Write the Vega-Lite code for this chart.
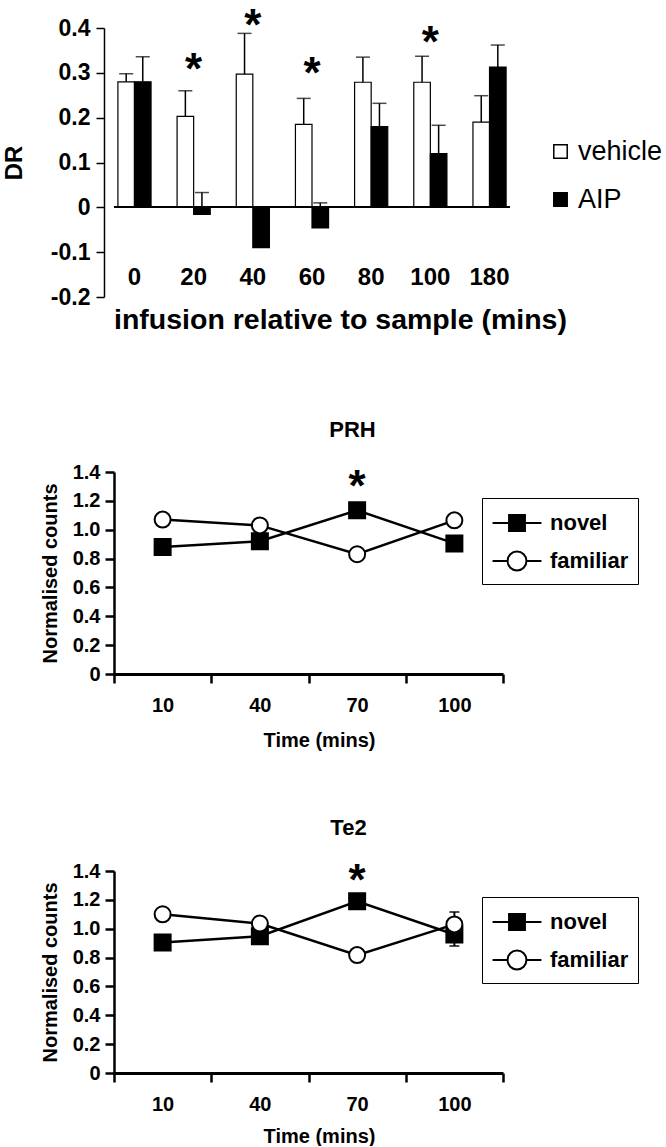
{
  "$schema": "https://vega.github.io/schema/vega-lite/v6.json",
  "padding": {"left": 2, "top": 4, "right": 0, "bottom": 0},
  "background": "white",
  "config": {
    "font": "Liberation Sans",
    "view": {"stroke": null},
    "axis": {"domainColor": "black", "tickColor": "black", "labelColor": "black", "titleColor": "black", "grid": false, "labelFont": "Liberation Sans", "titleFont": "Liberation Sans", "labelOverlap": false},
    "legend": {"labelColor": "black", "labelFont": "Liberation Sans"},
    "title": {"color": "black", "font": "Liberation Sans", "fontWeight": "bold", "fontSize": 22}
  },
  "datasets": {
    "dr": [
      {"time": "0", "group": "vehicle", "value": 0.28},
      {"time": "0", "group": "AIP", "value": 0.28},
      {"time": "20", "group": "vehicle", "value": 0.203},
      {"time": "20", "group": "AIP", "value": -0.016},
      {"time": "40", "group": "vehicle", "value": 0.297},
      {"time": "40", "group": "AIP", "value": -0.09},
      {"time": "60", "group": "vehicle", "value": 0.185},
      {"time": "60", "group": "AIP", "value": -0.046},
      {"time": "80", "group": "vehicle", "value": 0.279},
      {"time": "80", "group": "AIP", "value": 0.18},
      {"time": "100", "group": "vehicle", "value": 0.279},
      {"time": "100", "group": "AIP", "value": 0.12},
      {"time": "180", "group": "vehicle", "value": 0.19},
      {"time": "180", "group": "AIP", "value": 0.313}
    ],
    "drerr": [
      {"time": "0", "group": "vehicle", "value": 0.28, "upper": 0.298},
      {"time": "0", "group": "AIP", "value": 0.28, "upper": 0.336},
      {"time": "20", "group": "vehicle", "value": 0.203, "upper": 0.26},
      {"time": "20", "group": "AIP", "value": -0.016, "upper": 0.033},
      {"time": "40", "group": "vehicle", "value": 0.297, "upper": 0.388},
      {"time": "60", "group": "vehicle", "value": 0.185, "upper": 0.243},
      {"time": "60", "group": "AIP", "value": -0.046, "upper": 0.01},
      {"time": "80", "group": "vehicle", "value": 0.279, "upper": 0.335},
      {"time": "80", "group": "AIP", "value": 0.18, "upper": 0.232},
      {"time": "100", "group": "vehicle", "value": 0.279, "upper": 0.337},
      {"time": "100", "group": "AIP", "value": 0.12, "upper": 0.183},
      {"time": "180", "group": "vehicle", "value": 0.19, "upper": 0.249},
      {"time": "180", "group": "AIP", "value": 0.313, "upper": 0.362}
    ],
    "drstar": [
      {"time": "20", "pos": 0.33},
      {"time": "40", "pos": 0.43},
      {"time": "60", "pos": 0.322},
      {"time": "100", "pos": 0.391}
    ],
    "prh": [
      {"time": "10", "series": "novel", "value": 0.88, "lo": 0.86, "hi": 0.9},
      {"time": "40", "series": "novel", "value": 0.92, "lo": 0.88, "hi": 0.96},
      {"time": "70", "series": "novel", "value": 1.135, "lo": 1.11, "hi": 1.16},
      {"time": "100", "series": "novel", "value": 0.905, "lo": 0.86, "hi": 0.95},
      {"time": "10", "series": "familiar", "value": 1.07, "lo": 1.05, "hi": 1.09},
      {"time": "40", "series": "familiar", "value": 1.03, "lo": 0.99, "hi": 1.07},
      {"time": "70", "series": "familiar", "value": 0.83, "lo": 0.81, "hi": 0.85},
      {"time": "100", "series": "familiar", "value": 1.065, "lo": 1.03, "hi": 1.1}
    ],
    "prhstar": [{"time": "70", "pos": 1.372}],
    "te2": [
      {"time": "10", "series": "novel", "value": 0.905, "lo": 0.885, "hi": 0.925},
      {"time": "40", "series": "novel", "value": 0.948, "lo": 0.91, "hi": 0.99},
      {"time": "70", "series": "novel", "value": 1.19, "lo": 1.17, "hi": 1.21},
      {"time": "100", "series": "novel", "value": 0.96, "lo": 0.88, "hi": 1.04},
      {"time": "10", "series": "familiar", "value": 1.1, "lo": 1.08, "hi": 1.12},
      {"time": "40", "series": "familiar", "value": 1.036, "lo": 0.99, "hi": 1.08},
      {"time": "70", "series": "familiar", "value": 0.817, "lo": 0.79, "hi": 0.84},
      {"time": "100", "series": "familiar", "value": 1.03, "lo": 0.95, "hi": 1.116}
    ],
    "te2star": [{"time": "70", "pos": 1.405}]
  },
  "spacing": 85,
  "vconcat": [
    {
      "width": 396,
      "height": 269,
      "data": {"name": "dr"},
      "layer": [
        {
          "mark": {"type": "bar", "stroke": "black", "strokeWidth": 1.2},
          "encoding": {
            "x": {"field": "time", "type": "nominal", "sort": ["0", "20", "40", "60", "80", "100", "180"],
              "scale": {"paddingInner": 0.44, "paddingOuter": 0.066},
              "axis": {"title": "infusion relative to sample (mins)", "labelAngle": 0, "domain": false, "ticks": false, "labelPadding": -32, "labelFontSize": 24, "labelFontWeight": "bold", "titleFontSize": 28.5, "titleFontWeight": "bold", "titlePadding": 8, "titleX": 226, "titleAlign": "center"}},
            "xOffset": {"field": "group", "type": "nominal", "sort": ["vehicle", "AIP"], "scale": {"paddingInner": 0}},
            "y": {"field": "value", "type": "quantitative", "scale": {"domain": [-0.2, 0.4], "nice": false, "zero": false},
              "axis": {"title": "DR", "offset": 10, "values": [-0.2, -0.1, 0, 0.1, 0.2, 0.3, 0.4], "labelOverlap": false, "labelExpr": "datum.value == 0 ? '0' : replace(format(datum.value, '.1f'), '\u2212', '-')", "labelFontSize": 23, "labelFontWeight": "bold", "tickSize": 8, "tickWidth": 1.5, "domainWidth": 1.5, "labelPadding": 6, "titleFontSize": 24, "titleFontWeight": "bold", "titlePadding": 24}},
            "fill": {"field": "group", "type": "nominal", "scale": {"domain": ["vehicle", "AIP"], "range": ["white", "black"]},
              "legend": {"title": null, "orient": "none", "legendX": 433, "legendY": 110, "symbolType": "square", "symbolSize": 180, "symbolStrokeColor": "black", "symbolStrokeWidth": 1.5, "labelFontSize": 27, "labelFontWeight": "normal", "labelOffset": 4, "rowPadding": 20}}
          }
        },
        {
          "data": {"name": "drerr"},
          "mark": {"type": "rule", "color": "black", "strokeWidth": 1.5},
          "encoding": {
            "x": {"field": "time", "type": "nominal", "sort": ["0", "20", "40", "60", "80", "100", "180"]},
            "xOffset": {"field": "group", "type": "nominal", "sort": ["vehicle", "AIP"]},
            "y": {"field": "value", "type": "quantitative"},
            "y2": {"field": "upper"}
          }
        },
        {
          "data": {"name": "drerr"},
          "mark": {"type": "tick", "color": "black", "thickness": 1.5, "size": 14},
          "encoding": {
            "x": {"field": "time", "type": "nominal", "sort": ["0", "20", "40", "60", "80", "100", "180"]},
            "xOffset": {"field": "group", "type": "nominal", "sort": ["vehicle", "AIP"]},
            "y": {"field": "upper", "type": "quantitative"}
          }
        },
        {
          "mark": {"type": "rule", "color": "black", "strokeWidth": 1.5},
          "encoding": {"y": {"datum": 0}}
        },
        {
          "data": {"name": "drstar"},
          "mark": {"type": "text", "text": "*", "fontSize": 44, "fontWeight": "bold", "baseline": "alphabetic", "dy": 25, "color": "black"},
          "encoding": {
            "x": {"field": "time", "type": "nominal", "sort": ["0", "20", "40", "60", "80", "100", "180"]},
            "y": {"field": "pos", "type": "quantitative"}
          }
        }
      ]
    },
    {
      "spacing": 67,
      "vconcat": [
        {
          "width": 389,
          "height": 202,
          "title": {"text": "PRH", "dx": 44, "offset": 20, "fontSize": 22},
          "data": {"name": "prh"},
          "layer": [
            {
              "mark": {"type": "line", "color": "black", "strokeWidth": 2.5},
              "encoding": {
                "x": {"field": "time", "type": "ordinal", "sort": ["10", "40", "70", "100"], "bandPosition": 0.5, "scale": {"type": "band", "paddingInner": 0, "paddingOuter": 0},
                  "axis": {"title": "Time (mins)", "labelAngle": 0, "tickBand": "extent", "labelFontSize": 20, "labelFontWeight": "bold", "tickSize": 9, "tickWidth": 2.5, "domainWidth": 3, "labelPadding": 12, "titleFontSize": 20, "titleFontWeight": "bold", "titlePadding": 15, "titleX": 205, "titleAlign": "center"}},
                "y": {"field": "value", "type": "quantitative", "scale": {"domain": [0, 1.4], "nice": false},
                  "axis": {"title": "Normalised counts", "values": [0, 0.2, 0.4, 0.6, 0.8, 1, 1.2, 1.4], "tickCount": 8, "labelOverlap": false, "labelExpr": "datum.value == 0 ? '0' : format(datum.value, '.1f')", "labelFontSize": 20, "labelFontWeight": "bold", "tickSize": 9, "tickWidth": 2.5, "domainWidth": 2.5, "labelPadding": 5, "titleFontSize": 20, "titleFontWeight": "bold", "titlePadding": 12}},
                "detail": {"field": "series"}
              }
            },
            {
              "mark": {"type": "rule", "color": "black", "strokeWidth": 2},
              "encoding": {
                "x": {"field": "time", "type": "ordinal", "sort": ["10", "40", "70", "100"], "bandPosition": 0.5},
                "y": {"field": "lo", "type": "quantitative", "axis": null},
                "y2": {"field": "hi"}
              }
            },
            {
              "mark": {"type": "tick", "color": "black", "thickness": 2, "size": 10},
              "encoding": {
                "x": {"field": "time", "type": "ordinal", "sort": ["10", "40", "70", "100"]},
                "y": {"field": "lo", "type": "quantitative", "axis": null}
              }
            },
            {
              "mark": {"type": "tick", "color": "black", "thickness": 2, "size": 10},
              "encoding": {
                "x": {"field": "time", "type": "ordinal", "sort": ["10", "40", "70", "100"]},
                "y": {"field": "hi", "type": "quantitative", "axis": null}
              }
            },
            {
              "mark": {"type": "point", "filled": true, "stroke": "black", "strokeWidth": 2, "size": 256, "opacity": 1},
              "encoding": {
                "x": {"field": "time", "type": "ordinal", "sort": ["10", "40", "70", "100"], "bandPosition": 0.5},
                "y": {"field": "value", "type": "quantitative", "axis": null},
                "shape": {"field": "series", "type": "nominal", "scale": {"domain": ["novel", "familiar"], "range": ["square", "circle"]}, "legend": null},
                "fill": {"field": "series", "type": "nominal", "scale": {"domain": ["novel", "familiar"], "range": ["black", "white"]}, "legend": null}
              }
            },
            {
              "mark": {"type": "point", "filled": true, "stroke": "black", "strokeWidth": 2, "size": 900, "opacity": 0},
              "encoding": {
                "x": {"field": "time", "type": "ordinal", "sort": ["10", "40", "70", "100"], "bandPosition": 0.5},
                "y": {"field": "value", "type": "quantitative", "axis": null},
                "shape": {"field": "series", "type": "nominal", "scale": {"domain": ["novel", "familiar"], "range": ["M-1.63,0H1.63M-0.53,-0.53H0.53V0.53H-0.53Z", "M-1.63,0H-0.63M0.63,0H1.63M0.63,0A0.63,0.63,0,1,1,-0.63,0A0.63,0.63,0,1,1,0.63,0Z"]},
                  "legend": {"title": null, "orient": "none", "legendX": 368, "legendY": 26, "symbolSize": 900, "symbolOffset": 10, "labelFontSize": 22, "labelFontWeight": "bold", "labelOffset": 17, "strokeColor": "black", "padding": 9, "rowPadding": 10, "symbolStrokeColor": "black", "symbolStrokeWidth": 2, "symbolOpacity": 1, "cornerRadius": 0, "fillColor": "white", "encode": {"symbols": {"update": {"opacity": {"value": 1}}}}}},
                "fill": {"field": "series", "type": "nominal", "scale": {"domain": ["novel", "familiar"], "range": ["black", "white"]},
                  "legend": {"title": null, "orient": "none", "legendX": 368, "legendY": 26, "symbolSize": 900, "symbolOffset": 10, "labelFontSize": 22, "labelFontWeight": "bold", "labelOffset": 17, "strokeColor": "black", "padding": 9, "rowPadding": 10, "symbolStrokeColor": "black", "symbolStrokeWidth": 2, "symbolOpacity": 1, "cornerRadius": 0, "fillColor": "white", "encode": {"symbols": {"update": {"opacity": {"value": 1}}}}}}
              }
            },
            {
              "data": {"name": "prhstar"},
              "mark": {"type": "text", "text": "*", "fontSize": 44, "fontWeight": "bold", "baseline": "alphabetic", "dy": 25, "color": "black"},
              "encoding": {
                "x": {"field": "time", "type": "ordinal", "sort": ["10", "40", "70", "100"], "bandPosition": 0.5},
                "y": {"field": "pos", "type": "quantitative", "axis": null}
              }
            }
          ],
          "resolve": {"scale": {"shape": "independent", "fill": "independent"}, "axis": {"y": "independent"}}
        },
        {
          "width": 389,
          "height": 202,
          "title": {"text": "Te2", "dx": 40, "offset": 20, "fontSize": 22},
          "data": {"name": "te2"},
          "layer": [
            {
              "mark": {"type": "line", "color": "black", "strokeWidth": 2.5},
              "encoding": {
                "x": {"field": "time", "type": "ordinal", "sort": ["10", "40", "70", "100"], "bandPosition": 0.5, "scale": {"type": "band", "paddingInner": 0, "paddingOuter": 0},
                  "axis": {"title": "Time (mins)", "labelAngle": 0, "tickBand": "extent", "labelFontSize": 20, "labelFontWeight": "bold", "tickSize": 9, "tickWidth": 2.5, "domainWidth": 3, "labelPadding": 12, "titleFontSize": 20, "titleFontWeight": "bold", "titlePadding": 12, "titleX": 205, "titleAlign": "center"}},
                "y": {"field": "value", "type": "quantitative", "scale": {"domain": [0, 1.4], "nice": false},
                  "axis": {"title": "Normalised counts", "values": [0, 0.2, 0.4, 0.6, 0.8, 1, 1.2, 1.4], "tickCount": 8, "labelOverlap": false, "labelExpr": "datum.value == 0 ? '0' : format(datum.value, '.1f')", "labelFontSize": 20, "labelFontWeight": "bold", "tickSize": 9, "tickWidth": 2.5, "domainWidth": 2.5, "labelPadding": 5, "titleFontSize": 20, "titleFontWeight": "bold", "titlePadding": 12}},
                "detail": {"field": "series"}
              }
            },
            {
              "mark": {"type": "rule", "color": "black", "strokeWidth": 2},
              "encoding": {
                "x": {"field": "time", "type": "ordinal", "sort": ["10", "40", "70", "100"], "bandPosition": 0.5},
                "y": {"field": "lo", "type": "quantitative", "axis": null},
                "y2": {"field": "hi"}
              }
            },
            {
              "mark": {"type": "tick", "color": "black", "thickness": 2, "size": 10},
              "encoding": {
                "x": {"field": "time", "type": "ordinal", "sort": ["10", "40", "70", "100"]},
                "y": {"field": "lo", "type": "quantitative", "axis": null}
              }
            },
            {
              "mark": {"type": "tick", "color": "black", "thickness": 2, "size": 10},
              "encoding": {
                "x": {"field": "time", "type": "ordinal", "sort": ["10", "40", "70", "100"]},
                "y": {"field": "hi", "type": "quantitative", "axis": null}
              }
            },
            {
              "mark": {"type": "point", "filled": true, "stroke": "black", "strokeWidth": 2, "size": 256, "opacity": 1},
              "encoding": {
                "x": {"field": "time", "type": "ordinal", "sort": ["10", "40", "70", "100"], "bandPosition": 0.5},
                "y": {"field": "value", "type": "quantitative", "axis": null},
                "shape": {"field": "series", "type": "nominal", "scale": {"domain": ["novel", "familiar"], "range": ["square", "circle"]}, "legend": null},
                "fill": {"field": "series", "type": "nominal", "scale": {"domain": ["novel", "familiar"], "range": ["black", "white"]}, "legend": null}
              }
            },
            {
              "mark": {"type": "point", "filled": true, "stroke": "black", "strokeWidth": 2, "size": 900, "opacity": 0},
              "encoding": {
                "x": {"field": "time", "type": "ordinal", "sort": ["10", "40", "70", "100"], "bandPosition": 0.5},
                "y": {"field": "value", "type": "quantitative", "axis": null},
                "shape": {"field": "series", "type": "nominal", "scale": {"domain": ["novel", "familiar"], "range": ["M-1.63,0H1.63M-0.53,-0.53H0.53V0.53H-0.53Z", "M-1.63,0H-0.63M0.63,0H1.63M0.63,0A0.63,0.63,0,1,1,-0.63,0A0.63,0.63,0,1,1,0.63,0Z"]},
                  "legend": {"title": null, "orient": "none", "legendX": 368, "legendY": 26, "symbolSize": 900, "symbolOffset": 10, "labelFontSize": 22, "labelFontWeight": "bold", "labelOffset": 17, "strokeColor": "black", "padding": 9, "rowPadding": 10, "symbolStrokeColor": "black", "symbolStrokeWidth": 2, "symbolOpacity": 1, "cornerRadius": 0, "fillColor": "white", "encode": {"symbols": {"update": {"opacity": {"value": 1}}}}}},
                "fill": {"field": "series", "type": "nominal", "scale": {"domain": ["novel", "familiar"], "range": ["black", "white"]},
                  "legend": {"title": null, "orient": "none", "legendX": 368, "legendY": 26, "symbolSize": 900, "symbolOffset": 10, "labelFontSize": 22, "labelFontWeight": "bold", "labelOffset": 17, "strokeColor": "black", "padding": 9, "rowPadding": 10, "symbolStrokeColor": "black", "symbolStrokeWidth": 2, "symbolOpacity": 1, "cornerRadius": 0, "fillColor": "white", "encode": {"symbols": {"update": {"opacity": {"value": 1}}}}}}
              }
            },
            {
              "data": {"name": "te2star"},
              "mark": {"type": "text", "text": "*", "fontSize": 44, "fontWeight": "bold", "baseline": "alphabetic", "dy": 25, "color": "black"},
              "encoding": {
                "x": {"field": "time", "type": "ordinal", "sort": ["10", "40", "70", "100"], "bandPosition": 0.5},
                "y": {"field": "pos", "type": "quantitative", "axis": null}
              }
            }
          ],
          "resolve": {"scale": {"shape": "independent", "fill": "independent"}, "axis": {"y": "independent"}}
        }
      ]
    }
  ]
}
